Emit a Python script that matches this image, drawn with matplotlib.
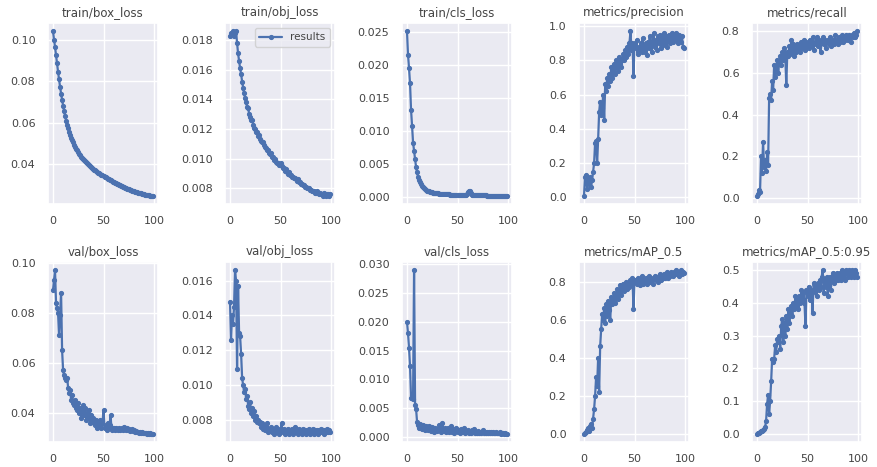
import matplotlib
matplotlib.use("Agg")
import matplotlib.pyplot as plt
from matplotlib.ticker import MultipleLocator
import seaborn as sns

epochs = list(range(100))

train_box_loss = [
    0.1040, 0.1000, 0.0965, 0.0925, 0.0885, 0.0845, 0.0808, 0.0772, 0.0740, 0.0710,
    0.0682, 0.0656, 0.0632, 0.0610, 0.0590, 0.0572, 0.0556, 0.0541, 0.0528, 0.0516,
    0.0505, 0.0494, 0.0484, 0.0475, 0.0467, 0.0459, 0.0451, 0.0444, 0.0437, 0.0431,
    0.0425, 0.0419, 0.0414, 0.0409, 0.0404, 0.0399, 0.0395, 0.0390, 0.0386, 0.0382,
    0.0378, 0.0374, 0.0370, 0.0366, 0.0363, 0.0359, 0.0356, 0.0352, 0.0349, 0.0346,
    0.0343, 0.0340, 0.0337, 0.0334, 0.0331, 0.0328, 0.0325, 0.0322, 0.0319, 0.0316,
    0.0313, 0.0311, 0.0308, 0.0305, 0.0303, 0.0300, 0.0298, 0.0295, 0.0293, 0.0291,
    0.0289, 0.0287, 0.0285, 0.0283, 0.0281, 0.0279, 0.0277, 0.0275, 0.0273, 0.0271,
    0.0269, 0.0268, 0.0266, 0.0264, 0.0263, 0.0261, 0.0260, 0.0259, 0.0257, 0.0256,
    0.0255, 0.0254, 0.0253, 0.0252, 0.0251, 0.0250, 0.0249, 0.0249, 0.0248, 0.0248,
]

train_obj_loss = [
    0.0183, 0.0185, 0.0184, 0.0186, 0.0183, 0.0185, 0.0186, 0.0178, 0.0171, 0.0166,
    0.0161, 0.0157, 0.0152, 0.0148, 0.0144, 0.0141, 0.0138, 0.0135, 0.0134, 0.0130,
    0.0128, 0.0126, 0.0126, 0.0123, 0.0121, 0.0120, 0.0118, 0.0118, 0.0115, 0.0116,
    0.0113, 0.0112, 0.0111, 0.0111, 0.0109, 0.0108, 0.0107, 0.0106, 0.0106, 0.0104,
    0.0103, 0.0104, 0.0101, 0.0101, 0.0099, 0.0100, 0.0098, 0.0097, 0.0097, 0.0096,
    0.0097, 0.0095, 0.0094, 0.0094, 0.0092, 0.0093, 0.0091, 0.0090, 0.0091, 0.0089,
    0.0089, 0.0088, 0.0088, 0.0087, 0.0087, 0.0086, 0.0085, 0.0086, 0.0084, 0.0084,
    0.0083, 0.0083, 0.0082, 0.0082, 0.0081, 0.0081, 0.0080, 0.0080, 0.0080, 0.0079,
    0.0079, 0.0078, 0.0078, 0.0078, 0.0077, 0.0077, 0.0078, 0.0077, 0.0076, 0.0077,
    0.0076, 0.0076, 0.0075, 0.0077, 0.0076, 0.0075, 0.0076, 0.0076, 0.0075, 0.0076,
]

train_cls_loss = [
    0.0251, 0.0215, 0.0195, 0.0172, 0.0132, 0.0108, 0.0082, 0.0070, 0.0057, 0.0045,
    0.0037, 0.0030, 0.0025, 0.0022, 0.0019, 0.0017, 0.0015, 0.0013, 0.0012, 0.0011,
    0.00095, 0.00088, 0.00082, 0.00077, 0.00072, 0.00068, 0.00064, 0.00061, 0.00058, 0.00055,
    0.00053, 0.00051, 0.00049, 0.00047, 0.00045, 0.00044, 0.00042, 0.00041, 0.00040, 0.00039,
    0.00038, 0.00037, 0.00036, 0.00035, 0.00034, 0.00033, 0.00033, 0.00032, 0.00031, 0.00031,
    0.00030, 0.00030, 0.00029, 0.00029, 0.00028, 0.00028, 0.00027, 0.00030, 0.00035, 0.00045,
    0.00070, 0.00090, 0.00085, 0.00060, 0.00035, 0.00027, 0.00026, 0.00025, 0.00025, 0.00024,
    0.00024, 0.00023, 0.00023, 0.00022, 0.00022, 0.00022, 0.00021, 0.00021, 0.00021, 0.00020,
    0.00020, 0.00020, 0.00019, 0.00019, 0.00019, 0.00019, 0.00018, 0.00018, 0.00018, 0.00018,
    0.00017, 0.00017, 0.00017, 0.00017, 0.00017, 0.00016, 0.00016, 0.00016, 0.00016, 0.00016,
]

precision = [
    0.010, 0.120, 0.130, 0.050, 0.100, 0.080, 0.120, 0.060, 0.100, 0.150,
    0.200, 0.320, 0.330, 0.200, 0.340, 0.500, 0.560, 0.480, 0.520, 0.600,
    0.450, 0.660, 0.620, 0.700, 0.650, 0.720, 0.680, 0.760, 0.700, 0.740,
    0.780, 0.720, 0.800, 0.760, 0.740, 0.820, 0.780, 0.760, 0.800, 0.840,
    0.800, 0.860, 0.820, 0.880, 0.840, 0.900, 0.970, 0.860, 0.900, 0.710,
    0.900, 0.870, 0.920, 0.840, 0.880, 0.860, 0.900, 0.850, 0.930, 0.880,
    0.850, 0.900, 0.830, 0.910, 0.870, 0.940, 0.890, 0.850, 0.920, 0.960,
    0.880, 0.920, 0.860, 0.940, 0.900, 0.950, 0.870, 0.930, 0.890, 0.960,
    0.900, 0.940, 0.880, 0.920, 0.950, 0.900, 0.930, 0.960, 0.910, 0.950,
    0.920, 0.960, 0.940, 0.900, 0.950, 0.930, 0.910, 0.940, 0.880, 0.870,
]

recall = [
    0.010, 0.020, 0.040, 0.030, 0.200, 0.120, 0.270, 0.150, 0.180, 0.130,
    0.220, 0.160, 0.480, 0.500, 0.470, 0.560, 0.520, 0.640, 0.580, 0.620,
    0.660, 0.600, 0.650, 0.680, 0.640, 0.700, 0.660, 0.720, 0.680, 0.540,
    0.700, 0.680, 0.730, 0.690, 0.760, 0.700, 0.740, 0.680, 0.720, 0.700,
    0.740, 0.710, 0.730, 0.700, 0.750, 0.720, 0.740, 0.760, 0.710, 0.730,
    0.750, 0.720, 0.760, 0.740, 0.730, 0.770, 0.710, 0.750, 0.740, 0.770,
    0.730, 0.760, 0.740, 0.700, 0.750, 0.770, 0.740, 0.760, 0.720, 0.750,
    0.760, 0.740, 0.770, 0.730, 0.750, 0.760, 0.740, 0.780, 0.750, 0.760,
    0.740, 0.770, 0.750, 0.760, 0.780, 0.750, 0.770, 0.760, 0.780, 0.770,
    0.760, 0.780, 0.770, 0.750, 0.780, 0.770, 0.790, 0.770, 0.780, 0.800,
]

val_box_loss = [
    0.0890, 0.0930, 0.0970, 0.0840, 0.0820, 0.0800, 0.0710, 0.0790, 0.0880, 0.0650,
    0.0570, 0.0550, 0.0540, 0.0530, 0.0540, 0.0500, 0.0480, 0.0490, 0.0450, 0.0470,
    0.0440, 0.0430, 0.0450, 0.0420, 0.0410, 0.0440, 0.0400, 0.0420, 0.0380, 0.0410,
    0.0430, 0.0390, 0.0420, 0.0370, 0.0400, 0.0380, 0.0410, 0.0360, 0.0390, 0.0370,
    0.0380, 0.0360, 0.0350, 0.0370, 0.0340, 0.0360, 0.0350, 0.0370, 0.0340, 0.0360,
    0.0410, 0.0340, 0.0350, 0.0330, 0.0360, 0.0340, 0.0350, 0.0390, 0.0330, 0.0340,
    0.0340, 0.0330, 0.0340, 0.0335, 0.0330, 0.0340, 0.0330, 0.0335, 0.0340, 0.0330,
    0.0345, 0.0335, 0.0330, 0.0340, 0.0330, 0.0335, 0.0328, 0.0330, 0.0335, 0.0326,
    0.0330, 0.0325, 0.0328, 0.0322, 0.0325, 0.0320, 0.0323, 0.0320, 0.0322, 0.0318,
    0.0320, 0.0318, 0.0320, 0.0317, 0.0318, 0.0316, 0.0318, 0.0316, 0.0317, 0.0316,
]

val_obj_loss = [
    0.0148, 0.0126, 0.0140, 0.0135, 0.0145, 0.0166, 0.0160, 0.0109, 0.0157, 0.0130,
    0.0128, 0.0118, 0.0104, 0.0100, 0.0096, 0.0098, 0.0092, 0.0094, 0.0088, 0.0086,
    0.0090, 0.0084, 0.0087, 0.0082, 0.0085, 0.0080, 0.0082, 0.0079, 0.0080, 0.0078,
    0.0079, 0.0076, 0.0078, 0.0075, 0.0077, 0.0074, 0.0076, 0.0078, 0.0073, 0.0075,
    0.0074, 0.0076, 0.0073, 0.0075, 0.0072, 0.0074, 0.0076, 0.0073, 0.0075, 0.0072,
    0.0074, 0.0078, 0.0073, 0.0075, 0.0072, 0.0074, 0.0073, 0.0075, 0.0072, 0.0074,
    0.0073, 0.0075, 0.0072, 0.0074, 0.0076, 0.0073, 0.0074, 0.0072, 0.0075, 0.0073,
    0.0074, 0.0072, 0.0075, 0.0073, 0.0074, 0.0072, 0.0074, 0.0073, 0.0075, 0.0072,
    0.0074, 0.0073, 0.0075, 0.0072, 0.0074, 0.0073, 0.0074, 0.0072, 0.0074, 0.0073,
    0.0075, 0.0073, 0.0074, 0.0072, 0.0074, 0.0073, 0.0075, 0.0073, 0.0074, 0.0073,
]

val_cls_loss = [
    0.0200, 0.0180, 0.0155, 0.0123, 0.0068, 0.0072, 0.0066, 0.0290, 0.0055, 0.0048,
    0.0025, 0.0020, 0.0016, 0.0022, 0.0018, 0.0014, 0.0020, 0.0016, 0.0012, 0.0018,
    0.0015, 0.0011, 0.0019, 0.0014, 0.0010, 0.0017, 0.0013, 0.0009, 0.0016, 0.0012,
    0.0010, 0.0014, 0.0020, 0.0012, 0.0008, 0.0024, 0.0013, 0.0010, 0.0015, 0.0009,
    0.0012, 0.0016, 0.0008, 0.0011, 0.0019, 0.0009, 0.0013, 0.0007, 0.0012, 0.0015,
    0.0009, 0.0011, 0.0006, 0.0013, 0.0008, 0.0010, 0.0015, 0.0007, 0.0010, 0.0008,
    0.0012, 0.0007, 0.0009, 0.0006, 0.0011, 0.0008, 0.0014, 0.0007, 0.0009, 0.0006,
    0.0010, 0.0007, 0.0009, 0.0006, 0.0008, 0.0011, 0.0006, 0.0008, 0.0007, 0.0009,
    0.0006, 0.0008, 0.0007, 0.0009, 0.0006, 0.0008, 0.0007, 0.0006, 0.0008, 0.0006,
    0.0007, 0.0006, 0.0008, 0.0005, 0.0007, 0.0006, 0.0005, 0.0007, 0.0005, 0.0005,
]

map_50 = [
    0.000, 0.005, 0.010, 0.020, 0.030, 0.015, 0.040, 0.050, 0.030, 0.080,
    0.130, 0.200, 0.300, 0.250, 0.400, 0.220, 0.460, 0.550, 0.630, 0.600,
    0.660, 0.580, 0.680, 0.620, 0.700, 0.650, 0.600, 0.720, 0.680, 0.700,
    0.740, 0.690, 0.720, 0.760, 0.710, 0.750, 0.780, 0.730, 0.760, 0.790,
    0.750, 0.780, 0.800, 0.760, 0.790, 0.770, 0.810, 0.790, 0.820, 0.655,
    0.810, 0.800, 0.790, 0.820, 0.800, 0.780, 0.810, 0.830, 0.790, 0.810,
    0.800, 0.820, 0.790, 0.810, 0.830, 0.800, 0.820, 0.810, 0.790, 0.820,
    0.830, 0.810, 0.820, 0.800, 0.830, 0.840, 0.810, 0.830, 0.820, 0.840,
    0.820, 0.830, 0.850, 0.820, 0.840, 0.830, 0.850, 0.840, 0.830, 0.850,
    0.840, 0.860, 0.840, 0.850, 0.830, 0.850, 0.860, 0.840, 0.850, 0.845,
]

map_50_95 = [
    0.000, 0.002, 0.004, 0.006, 0.008, 0.010, 0.012, 0.015, 0.020, 0.040,
    0.090, 0.120, 0.060, 0.100, 0.160, 0.230, 0.220, 0.230, 0.270, 0.250,
    0.290, 0.280, 0.300, 0.260, 0.330, 0.350, 0.280, 0.340, 0.300, 0.360,
    0.320, 0.380, 0.340, 0.370, 0.390, 0.360, 0.400, 0.380, 0.420, 0.390,
    0.410, 0.380, 0.420, 0.400, 0.440, 0.410, 0.430, 0.400, 0.330, 0.440,
    0.420, 0.450, 0.410, 0.440, 0.430, 0.370, 0.460, 0.440, 0.450, 0.420,
    0.460, 0.440, 0.470, 0.450, 0.480, 0.500, 0.430, 0.470, 0.450, 0.480,
    0.420, 0.460, 0.480, 0.440, 0.470, 0.490, 0.460, 0.480, 0.470, 0.490,
    0.470, 0.480, 0.490, 0.470, 0.500, 0.480, 0.490, 0.470, 0.500, 0.490,
    0.480, 0.500, 0.490, 0.480, 0.500, 0.490, 0.480, 0.500, 0.490, 0.480,
]

titles = [
    "train/box_loss", "train/obj_loss", "train/cls_loss", "metrics/precision", "metrics/recall",
    "val/box_loss", "val/obj_loss", "val/cls_loss", "metrics/mAP_0.5", "metrics/mAP_0.5:0.95",
]
series = [
    train_box_loss, train_obj_loss, train_cls_loss, precision, recall,
    val_box_loss, val_obj_loss, val_cls_loss, map_50, map_50_95,
]

sns.set_theme(style="darkgrid")
plt.rcParams["font.family"] = ["DejaVu Sans"]
text_color = "#444444"

W, H = 878, 467
fig = plt.figure(figsize=(W / 100, H / 100), dpi=100)

# axes boxes in pixels: left edges, width, and top/bottom per row
lefts = [48, 225, 402, 579, 752]
width = 110
rows = [(23, 204), (262, 442)]

for i, (title, values) in enumerate(zip(titles, series)):
    r, c = divmod(i, 5)
    top, bottom = rows[r]
    ax = fig.add_axes([lefts[c] / W, 1 - bottom / H, width / W, (bottom - top) / H])
    ax.plot(epochs, values, marker=".", linewidth=1.6, markersize=5.5,
            color="#4C72B0", label="results")
    ax.set_title(title, fontsize=8.5, color=text_color, pad=5)
    ax.set_xticks([0, 50, 100])
    if title == "val/box_loss":
        ax.yaxis.set_major_locator(MultipleLocator(0.02))
    ax.tick_params(labelsize=8, labelcolor=text_color, pad=3)
    if i == 1:
        ax.legend(loc="upper right", fontsize=7.5, handlelength=2.2,
                  borderpad=0.4, labelcolor=text_color)

fig.savefig("out.png", dpi=100)
